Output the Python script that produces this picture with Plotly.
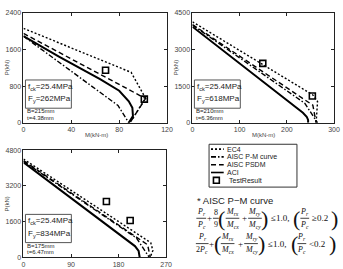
import plotly.graph_objects as go

W, H = 343, 269

# ---------------- data ----------------
# panel 1 : fck=25.4MPa, Fy=262MPa
ec4_1_m = [0, 90, 102, 89]
ec4_1_p = [2060, 1100, 540, 0]
pm_1_m = [0, 79, 88]
pm_1_p = [1890, 378, 0]
psdm_1_m = [0, 102, 89]
psdm_1_p = [1950, 530, 0]
aci_1_m = [0, 30, 64, 80, 88, 91, 91.5, 88]
aci_1_p = [1890, 1440, 955, 700, 470, 330, 150, 0]
test_1_m = [68.6, 101]
test_1_p = [1146, 516]

# panel 2 : fck=25.4MPa, Fy=618MPa
ec4_2_m = [0, 255, 265, 262]
ec4_2_p = [4130, 1140, 870, 0]
pm_2_m = [0, 238, 265]
pm_2_p = [4000, 800, 0]
psdm_2_m = [0, 255, 262]
psdm_2_p = [4020, 720, 0]
aci_2_m = [0, 234, 242, 245, 245]
aci_2_p = [3930, 410, 250, 120, 0]
test_2_m = [149, 254]
test_2_p = [2430, 1100]

# panel 3 : fck=25.4MPa, Fy=834MPa
ec4_3_m = [0, 241, 245, 240]
ec4_3_p = [4400, 650, 300, 0]
pm_3_m = [0, 214, 238]
pm_3_p = [4300, 860, 0]
psdm_3_m = [0, 235, 240]
psdm_3_p = [4330, 560, 0]
aci_3_m = [0, 211, 218, 220, 220]
aci_3_p = [4250, 500, 280, 100, 0]
test_3_m = [157, 202]
test_3_p = [2500, 1645]

x_ticks_1 = [0, 40, 80, 120]
y_ticks_1 = [0, 800, 1600, 2400]
x_ticks_2 = [0, 100, 200, 300]
y_ticks_2 = [0, 1500, 3000, 4500]
x_ticks_3 = [0, 90, 180, 270]
y_ticks_3 = [0, 1600, 3200, 4800]

legend_names = ["EC4", "AISC P-M curve", "AISC PSDM", "ACI", "TestResult"]

# ---------------- helpers ----------------
def px(x):
    return x / W


def py(y):
    return 1 - y / H


DOT = "2px,2px"
DASH = "5px,3px"
DASHDOT = "5px,2px,1.5px,2px"

fig = go.Figure()

panels = [
    ("x", "y", ec4_1_m, ec4_1_p, pm_1_m, pm_1_p, psdm_1_m, psdm_1_p, aci_1_m, aci_1_p, test_1_m, test_1_p),
    ("x2", "y2", ec4_2_m, ec4_2_p, pm_2_m, pm_2_p, psdm_2_m, psdm_2_p, aci_2_m, aci_2_p, test_2_m, test_2_p),
    ("x3", "y3", ec4_3_m, ec4_3_p, pm_3_m, pm_3_p, psdm_3_m, psdm_3_p, aci_3_m, aci_3_p, test_3_m, test_3_p),
]

for (xa, ya, em, ep, pmm, pmp, sm, sp, am, ap, tm, tp) in panels:
    fig.add_trace(go.Scatter(x=em, y=ep, mode="lines", xaxis=xa, yaxis=ya,
                             line=dict(color="black", width=1.4, dash=DOT), showlegend=False))
    fig.add_trace(go.Scatter(x=pmm, y=pmp, mode="lines", xaxis=xa, yaxis=ya,
                             line=dict(color="black", width=1.4, dash=DASHDOT), showlegend=False))
    fig.add_trace(go.Scatter(x=sm, y=sp, mode="lines", xaxis=xa, yaxis=ya,
                             line=dict(color="black", width=1.4, dash=DASH), showlegend=False))
    fig.add_trace(go.Scatter(x=am, y=ap, mode="lines", xaxis=xa, yaxis=ya,
                             line=dict(color="black", width=2), showlegend=False))
    fig.add_trace(go.Scatter(x=tm, y=tp, mode="markers", xaxis=xa, yaxis=ya,
                             marker=dict(symbol="square-open", size=6, color="black",
                                         line=dict(width=1.6, color="black")),
                             showlegend=False))

ax_common = dict(showline=True, linecolor="#222", linewidth=1, mirror="ticks",
                 ticks="inside", ticklen=3, tickcolor="#222", showgrid=False,
                 zeroline=False, tickfont=dict(size=7, color="#444",
                                               family="Liberation Sans, Arial"))

fig.update_layout(
    width=W, height=H, margin=dict(l=0, r=0, t=0, b=0),
    paper_bgcolor="white", plot_bgcolor="white", showlegend=False,
    xaxis=dict(domain=[px(22), px(169)], range=[0, 120], tickvals=x_ticks_1,
               anchor="y", **ax_common),
    yaxis=dict(domain=[py(122), py(9)], range=[0, 2400], tickvals=y_ticks_1,
               anchor="x", **ax_common),
    xaxis2=dict(domain=[px(195), px(340)], range=[0, 300], tickvals=x_ticks_2,
                anchor="y2", **ax_common),
    yaxis2=dict(domain=[py(122), py(9)], range=[0, 4500], tickvals=y_ticks_2,
                anchor="x2", **ax_common),
    xaxis3=dict(domain=[px(22), px(168)], range=[0, 270], tickvals=x_ticks_3,
                anchor="y3", **ax_common),
    yaxis3=dict(domain=[py(260), py(150)], range=[0, 4800], tickvals=y_ticks_3,
                anchor="x3", **ax_common),
)

ann = []
shapes = []

SANS = "Liberation Sans, Arial"
SERIF = "Liberation Serif, Times New Roman"


def text(x, y, s, size=7, xanchor="center", yanchor="middle", family=SANS, color="#222", angle=0, **kw):
    ann.append(dict(x=px(x), y=py(y), xref="paper", yref="paper", text=s, showarrow=False,
                    xanchor=xanchor, yanchor=yanchor, textangle=angle, borderpad=0,
                    font=dict(size=size, family=family, color=color), **kw))


# axis titles
for (x, y) in [(5, 65), (178, 65), (5, 205)]:
    text(x, y, "P(kN)", size=6, angle=-90, color="#444")
for (x, y) in [(97, 134), (268, 134)]:
    text(x, y, "M(kN-m)", size=6, color="#444")

# info boxes
info = [
    (24, 78, "262MPa", "B=215mm", "t=4.38mm"),
    (197, 78, "618MPa", "B=210mm", "t=6.36mm"),
    (24, 216, "834MPa", "B=175mm", "t=6.47mm"),
]
for (x0, y0, fy, b, t) in info:
    shapes.append(dict(type="rect", xref="paper", yref="paper", x0=px(x0), x1=px(x0 + 47),
                       y0=py(y0), y1=py(y0 + 29), line=dict(color="#555", width=1),
                       fillcolor="white", layer="above"))
    text(x0 + 1.5, y0 + 7, "f<sub>ck</sub>=25.4MPa", size=8, xanchor="left")
    text(x0 + 1.5, y0 + 20, "F<sub>y</sub>=" + fy, size=8, xanchor="left")
    text(x0 + 1, y0 + 32, b, size=6, xanchor="left")
    text(x0 + 1, y0 + 39, t, size=6, xanchor="left")

# legend box
shapes.append(dict(type="rect", xref="paper", yref="paper", x0=px(212), x1=px(302),
                   y0=py(144), y1=py(188), line=dict(color="#333", width=1)))
leg_y = [149, 157, 165, 173, 181]
leg_dash = [DOT, DASHDOT, DASH, "solid"]
for i, name in enumerate(legend_names):
    yy = leg_y[i]
    if i < 4:
        shapes.append(dict(type="line", xref="paper", yref="paper", x0=px(214), x1=px(227),
                           y0=py(yy), y1=py(yy),
                           line=dict(color="black", width=1.6, dash=leg_dash[i])))
    else:
        shapes.append(dict(type="rect", xref="paper", yref="paper", x0=px(216.5), x1=px(222.5),
                           y0=py(yy - 3), y1=py(yy + 3), line=dict(color="black", width=1.6)))
    text(229 if i < 4 else 231, yy, name, size=7, xanchor="left")

# formula
text(199, 202, "* AISC P\u2212M curve", size=9.5, xanchor="left")


def frac(xc, ybar, num, den, w, size=8):
    text(xc, ybar - 0.5, num, size=size, yanchor="bottom", family=SERIF, color="#111")
    text(xc, ybar + 0.5, den, size=size, yanchor="top", family=SERIF, color="#111")
    shapes.append(dict(type="line", xref="paper", yref="paper", x0=px(xc - w / 2), x1=px(xc + w / 2),
                       y0=py(ybar), y1=py(ybar), line=dict(color="#111", width=0.8)))


def sym(x, y, s, size=9):
    text(x, y, s, size=size, family=SERIF, color="#111")


Pr = "<i>P<sub>r</sub></i>"
Pc = "<i>P<sub>c</sub></i>"
Mrx = "<i>M<sub>rx</sub></i>"
Mcx = "<i>M<sub>cx</sub></i>"
Mry = "<i>M<sub>ry</sub></i>"
Mcy = "<i>M<sub>cy</sub></i>"

yb = 220
frac(204, yb, Pr, Pc, 10)
sym(212, yb, "+")
frac(219, yb, "8", "9", 6)
sym(225, yb, "(", 22)
frac(236, yb, Mrx, Mcx, 14)
sym(248, yb, "+")
frac(259, yb, Mry, Mcy, 14)
sym(269, yb, ")", 22)
sym(285, yb, "\u22641.0,", 9)
sym(302, yb, "(", 22)
frac(310, yb, Pr, Pc, 9)
sym(326, yb, "\u22650.2", 9)
sym(340, yb, ")", 22)

yb = 246
frac(205, yb, Pr, "2" + Pc, 13)
sym(215, yb, "+")
sym(221, yb, "(", 22)
frac(231, yb, Mrx, Mcx, 14)
sym(244, yb, "+")
frac(255, yb, Mry, Mcy, 14)
sym(266, yb, ")", 22)
sym(282, yb, "\u22641.0,", 9)
sym(299, yb, "(", 22)
frac(307, yb, Pr, Pc, 9)
sym(323, yb, "<0.2", 9)
sym(338, yb, ")", 22)

fig.update_layout(annotations=ann, shapes=shapes)
fig.write_html("out.html")
